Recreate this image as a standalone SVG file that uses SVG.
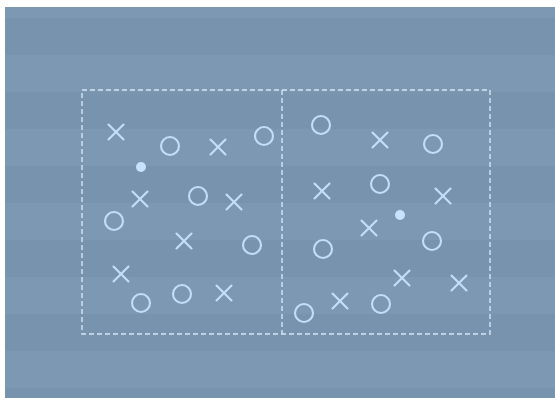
<svg xmlns="http://www.w3.org/2000/svg" width="555" height="398" viewBox="0 0 555 398">
<defs>
<style>
.band{fill:#7893ad}
.lite{fill:#7c98b2}
.field{fill:none;stroke:#d6e6f4;stroke-width:1.4;stroke-dasharray:5 3}
.o{fill:none;stroke:#c4def8;stroke-width:2.1}
.x{stroke:#c4def8;stroke-width:2.1;stroke-linecap:round}
.dot{fill:#c8e2fb}
</style>
<g id="xm"><line class="x" x1="-7.5" y1="-7.5" x2="7.5" y2="7.5"/><line class="x" x1="-7.5" y1="7.5" x2="7.5" y2="-7.5"/></g>
</defs>
<rect width="555" height="398" fill="#ffffff"/>
<g id="pitch">
<rect class="lite" x="5" y="7" width="550" height="391"/>
<rect class="band" x="5" y="18" width="550" height="37"/>
<rect class="band" x="5" y="92" width="550" height="37"/>
<rect class="band" x="5" y="166" width="550" height="37"/>
<rect class="band" x="5" y="240" width="550" height="37"/>
<rect class="band" x="5" y="314" width="550" height="37"/>
<rect class="band" x="5" y="388" width="550" height="10"/>
</g>
<g id="field">
<rect class="field" x="82" y="90" width="408" height="244"/>
<line class="field" x1="282" y1="90" x2="282" y2="334"/>
</g>
<g id="left-half">
<use href="#xm" x="116" y="132"/>
<circle class="o" cx="170" cy="146" r="9"/>
<use href="#xm" x="218" y="147"/>
<circle class="o" cx="264" cy="136" r="9"/>
<circle class="dot" cx="141" cy="167" r="5"/>
<use href="#xm" x="140" y="199"/>
<circle class="o" cx="198" cy="196" r="9"/>
<use href="#xm" x="234" y="202"/>
<circle class="o" cx="114" cy="221" r="9"/>
<use href="#xm" x="184" y="241"/>
<circle class="o" cx="252" cy="245" r="9"/>
<use href="#xm" x="121" y="274"/>
<circle class="o" cx="141" cy="303" r="9"/>
<circle class="o" cx="182" cy="294" r="9"/>
<use href="#xm" x="224" y="293"/>
</g>
<g id="right-half">
<circle class="o" cx="321" cy="125" r="9"/>
<use href="#xm" x="380" y="140"/>
<circle class="o" cx="433" cy="144" r="9"/>
<use href="#xm" x="322" y="191"/>
<circle class="o" cx="380" cy="184" r="9"/>
<use href="#xm" x="443" y="196"/>
<circle class="dot" cx="400" cy="215" r="5"/>
<use href="#xm" x="369" y="228"/>
<circle class="o" cx="432" cy="241" r="9"/>
<circle class="o" cx="323" cy="249" r="9"/>
<use href="#xm" x="402" y="278"/>
<use href="#xm" x="459" y="283"/>
<use href="#xm" x="340" y="301"/>
<circle class="o" cx="381" cy="304" r="9"/>
<circle class="o" cx="304" cy="313" r="9"/>
</g>
</svg>
